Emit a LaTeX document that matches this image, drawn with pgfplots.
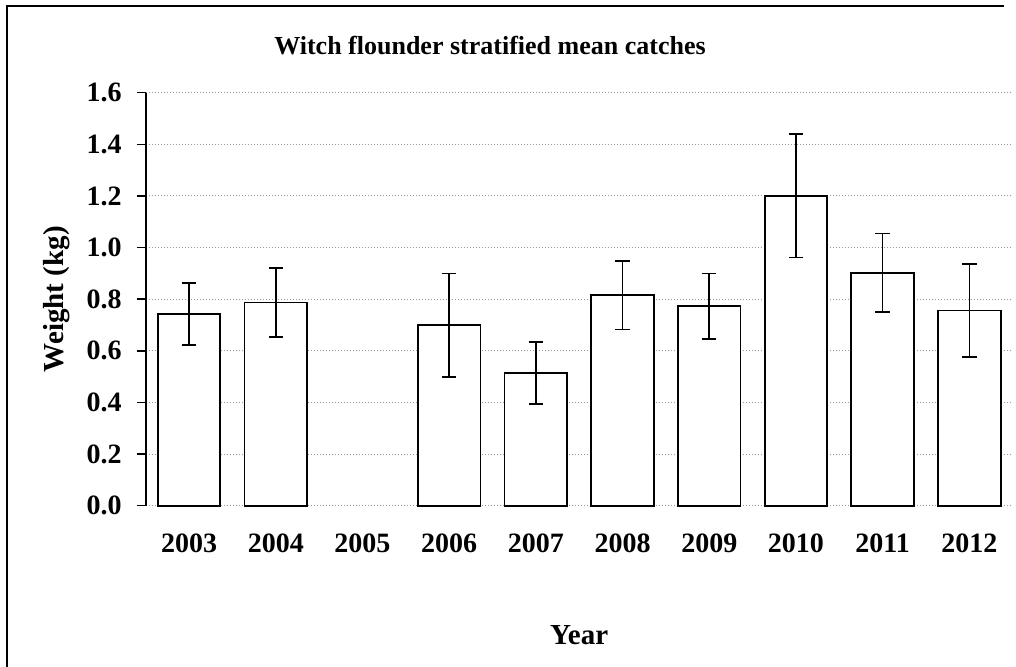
\documentclass[border=0pt]{standalone}
\usepackage{pgfplots}
\pgfplotsset{compat=1.18}
\usepackage{fontspec}
\setmainfont{Liberation Serif}

\begin{document}
\begin{tikzpicture}[font=\fontsize{14}{16}\selectfont\bfseries]
  \begin{axis}[
      scale only axis,
      at={(72.85pt,80.65pt)}, anchor=south west,
      width=433.5pt, height=206.5pt,
      ybar, bar width=31.3pt,
      axis lines*=left,
      x axis line style={draw=none},
      y axis line style={black, line width=0.8pt},
      xmin=-0.5, xmax=9.5,
      ymin=0, ymax=1.6,
      ytick={0,0.2,...,1.6},
      xtick={0,...,9},
      xticklabels={2003,2004,2005,2006,2007,2008,2009,2010,2011,2012},
      x tick style={draw=none},
      y tick style={black, line width=0.8pt},
      tick align=outside,
      major tick length=4.5pt,
      ymajorgrids=true,
      major grid style={gray!80, line width=0.5pt, densely dotted},
      /pgf/number format/assume math mode=true,
      yticklabel={\pgfmathprintnumber[fixed,fixed zerofill,precision=1]{\tick}},
      yticklabel style={font=\fontsize{14}{16}\selectfont\bfseries, xshift=-4pt},
      xticklabel style={font=\fontsize{14}{16}\selectfont\bfseries, yshift=-6pt},
      xlabel={Year},
      ylabel={Weight (kg)},
      label style={font=\fontsize{14.5}{16}\selectfont\bfseries},
      xlabel style={at={(axis description cs:0.5,-0.3125)}, anchor=center},
      ylabel style={at={(axis description cs:-0.103,0.5)}, anchor=center},
      clip=false,
    ]
    \addplot[
      fill=white, draw=black, line width=0.9pt,
      error bars/.cd, y dir=both, y explicit,
      error bar style={line width=0.8pt, black},
      error mark options={line width=0.8pt, mark size=3.6pt, rotate=90},
    ] coordinates {
      (0,0.742) +- (0,0.120)
      (1,0.787) +- (0,0.133)
      (3,0.699) +- (0,0.201)
      (4,0.513) +- (0,0.120)
      (5,0.816) +- (0,0.133)
      (6,0.773) +- (0,0.127)
      (7,1.201) +- (0,0.240)
      (8,0.903) +- (0,0.152)
      (9,0.756) +- (0,0.180)
    };
  \end{axis}
  \node[anchor=base, inner sep=0pt, font=\fontsize{13}{15}\selectfont\bfseries]
    at (245pt,306pt) {Witch flounder stratified mean catches};
  % outer chart frame: only its left and top edges fall inside the picture
  \draw[black, line width=1pt] (3.5pt,0pt) -- (3.5pt,330.5pt);
  \draw[black, line width=1pt] (3pt,330.5pt) -- (502pt,330.5pt);
  \pgfresetboundingbox
  \useasboundingbox (0,0) rectangle (508pt,333.5pt);
\end{tikzpicture}
\end{document}
